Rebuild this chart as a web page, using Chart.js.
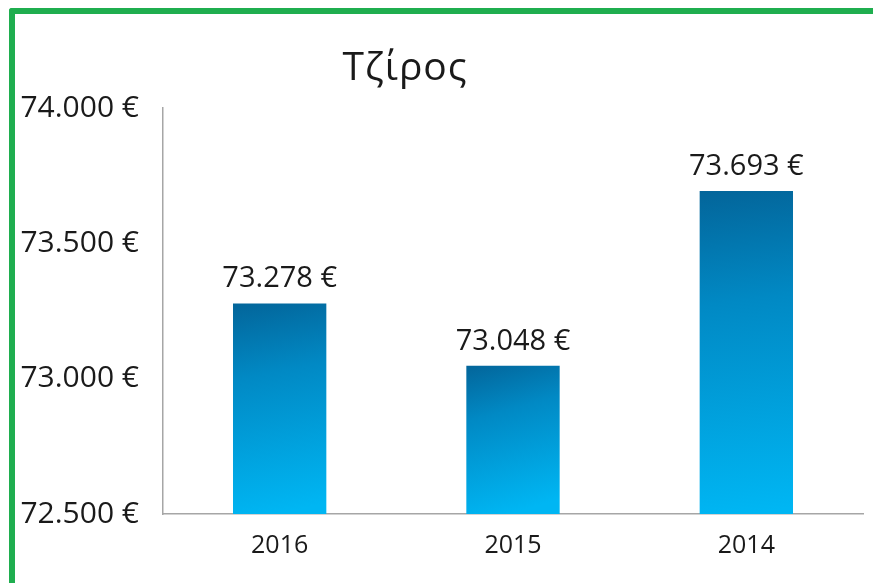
<!DOCTYPE html>
<html><head><meta charset="utf-8">
<script src="https://cdn.jsdelivr.net/npm/chart.js@4/dist/chart.umd.min.js"></script>
<style>
html,body{margin:0;padding:0;background:#fff;}
#wrap{position:relative;width:873px;height:583px;overflow:hidden;background:#fff;}
#frame{position:absolute;left:9px;top:8px;width:900px;height:620px;border-top:6px solid #1fae4f;border-left:6px solid #1fae4f;border-top-left-radius:3px;box-sizing:border-box;}
canvas{position:absolute;left:0;top:0;}
</style></head>
<body><div id="wrap"><div id="frame"></div><canvas id="c" width="873" height="583"></canvas></div>
<script>
const categories = ["2016", "2015", "2014"];
const values = [73278, 73048, 73693];
const yTicks = [72500, 73000, 73500, 74000];
const titleText = "Τζίρος";

const FONT = "'Open Sans', sans-serif";
function fmt(v){ return String(v).replace(/\B(?=(\d{3})+(?!\d))/g, ".") + " €"; }

const labelsPlugin = {
  id: 'labels',
  afterDatasetsDraw(chart){
    const ctx = chart.ctx;
    const meta = chart.getDatasetMeta(0);
    ctx.save();
    ctx.font = "29px " + FONT;
    ctx.fillStyle = "#1a1a1a";
    ctx.textAlign = "center";
    ctx.textBaseline = "alphabetic";
    meta.data.forEach((bar, i) => {
      ctx.fillText(fmt(values[i]), bar.x, bar.y - 16);
    });
    ctx.font = "39px " + FONT;
    try { ctx.letterSpacing = "1px"; } catch(e) {}
    ctx.fillText(titleText, 405, 80);
    ctx.restore();
  }
};

new Chart(document.getElementById('c'), {
  type: 'bar',
  data: {
    labels: categories,
    datasets: [{
      data: values,
      barPercentage: 0.8,
      categoryPercentage: 0.5,
      backgroundColor(context){
        const chart = context.chart;
        const ca = chart.chartArea;
        if (!ca) return '#0096d6';
        const v = context.raw;
        const top = chart.scales.y.getPixelForValue(v);
        const x = chart.scales.x.getPixelForValue(context.dataIndex);
        const w = 94;
        const g = chart.ctx.createLinearGradient(x - w/2, top, x - w/2 + w*0.45, ca.bottom);
        g.addColorStop(0, '#03659a');
        g.addColorStop(0.35, '#0189c4');
        g.addColorStop(1, '#00b6f3');
        return g;
      }
    }]
  },
  options: {
    responsive: false,
    animation: false,
    layout: { padding: { top: 108, right: 10, left: 0, bottom: 0 } },
    plugins: { legend: { display: false }, tooltip: { enabled: false } },
    scales: {
      x: {
        grid: { display: false, drawTicks: false },
        border: { display: true, color: '#a6a6a6', width: 1.5 },
        ticks: { color: '#1a1a1a', font: { family: FONT, size: 25 }, padding: 17 },
        afterFit(s){ s.height = 69; }
      },
      y: {
        min: 72500, max: 74000,
        afterBuildTicks(s){ s.ticks = yTicks.map(v => ({ value: v })); },
        grid: { display: false, drawTicks: false },
        border: { display: true, color: '#a6a6a6', width: 1.5 },
        ticks: { color: '#1a1a1a', font: { family: FONT, size: 30 }, padding: 24, callback: v => fmt(v) },
        afterFit(s){ s.width = 163; }
      }
    }
  },
  plugins: [labelsPlugin]
});
</script></body></html>
